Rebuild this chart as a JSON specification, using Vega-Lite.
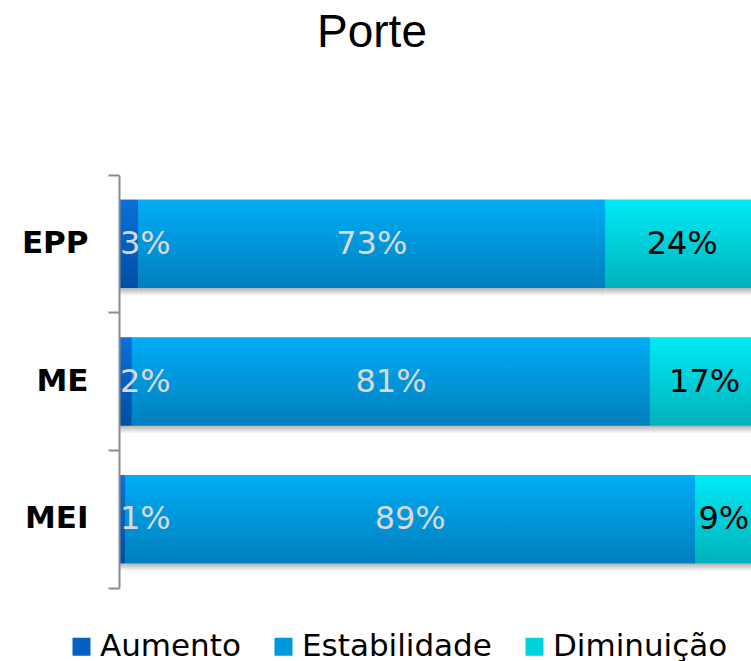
{
  "$schema": "https://vega.github.io/schema/vega-lite/v6.json",
  "width": 632,
  "height": 413,
  "autosize": {"type": "none"},
  "padding": {"left": 119, "top": 175, "right": 0, "bottom": 73},
  "background": "white",
  "view": {"stroke": null},
  "title": {"text": "Porte", "font": "Liberation Sans", "fontSize": 46, "fontWeight": "normal", "color": "#000000", "anchor": "middle", "frame": "group", "dx": -63, "offset": 102},
  "data": {"values": [
    {"porte": "EPP", "serie": "Aumento", "ordem": 1, "valor": 3, "rotulo": "3%"},
    {"porte": "EPP", "serie": "Estabilidade", "ordem": 2, "valor": 73, "rotulo": "73%"},
    {"porte": "EPP", "serie": "Diminuição", "ordem": 3, "valor": 24, "rotulo": "24%"},
    {"porte": "ME", "serie": "Aumento", "ordem": 1, "valor": 2, "rotulo": "2%"},
    {"porte": "ME", "serie": "Estabilidade", "ordem": 2, "valor": 81, "rotulo": "81%"},
    {"porte": "ME", "serie": "Diminuição", "ordem": 3, "valor": 17, "rotulo": "17%"},
    {"porte": "MEI", "serie": "Aumento", "ordem": 1, "valor": 1, "rotulo": "1%"},
    {"porte": "MEI", "serie": "Estabilidade", "ordem": 2, "valor": 89, "rotulo": "89%"},
    {"porte": "MEI", "serie": "Diminuição", "ordem": 3, "valor": 9, "rotulo": "9%"}
  ]},
  "transform": [
    {"stack": "valor", "groupby": ["porte"], "sort": [{"field": "ordem"}], "as": ["x0", "x1"]},
    {"calculate": "(datum.x0 + datum.x1) / 2", "as": "xm"}
  ],
  "encoding": {
    "y": {"field": "porte", "type": "nominal", "sort": ["EPP", "ME", "MEI"],
      "scale": {"paddingInner": 0, "paddingOuter": 0},
      "axis": {"title": null, "bandPosition": 1, "tickExtra": true, "tickSize": 11, "tickWidth": 2, "tickColor": "#8c8c8c", "domainColor": "#8c8c8c", "domainWidth": 2, "labelFont": "DejaVu Sans", "labelFontWeight": "bold", "labelFontSize": 31, "labelColor": "#000000", "labelPadding": 20, "grid": false, "zindex": 1}}
  },
  "layer": [
    {
      "mark": {"type": "bar", "clip": true, "height": {"band": 0.64}, "fill": {"gradient": "linear", "x1": 0, "y1": 0, "x2": 0, "y2": 1, "stops": [{"offset": 0, "color": "#a8a8a8"}, {"offset": 0.9, "color": "#a8a8a8"}, {"offset": 1, "color": "#ffffff"}]}},
      "encoding": {
        "x": {"field": "x0", "type": "quantitative", "scale": {"domain": [0, 98.75], "nice": false, "zero": true}, "axis": null},
        "x2": {"field": "x1"},
        "yOffset": {"value": 8}
      }
    },
    {
      "mark": {"type": "bar", "clip": true, "height": {"band": 0.64}},
      "encoding": {
        "x": {"field": "x0", "type": "quantitative"},
        "x2": {"field": "x1"},
        "color": {"field": "serie", "type": "nominal",
          "scale": {"domain": ["Aumento", "Estabilidade", "Diminuição"], "range": ["#0560c4", "#0098dc", "#00d2dc"]},
          "legend": {"orient": "none", "legendX": -53, "legendY": 456, "direction": "horizontal", "title": null, "symbolType": "square", "symbolSize": 324, "symbolStrokeWidth": 0, "labelFont": "DejaVu Sans", "labelFontSize": 31, "labelColor": "#000000", "columnPadding": 27, "labelOffset": 3, "padding": 0, "labelLimit": 400}}
      }
    },
    {
      "mark": {"type": "bar", "clip": true, "height": {"band": 0.64}},
      "encoding": {
        "x": {"field": "x0", "type": "quantitative"},
        "x2": {"field": "x1"},
        "fill": {"condition": [
          {"test": "datum.serie === 'Aumento'", "value": {"gradient": "linear", "x1": 0, "y1": 0, "x2": 0, "y2": 1, "stops": [{"offset": 0, "color": "#0a70da"}, {"offset": 1, "color": "#004ea3"}]}},
          {"test": "datum.serie === 'Estabilidade'", "value": {"gradient": "linear", "x1": 0, "y1": 0, "x2": 0, "y2": 1, "stops": [{"offset": 0, "color": "#00adf5"}, {"offset": 1, "color": "#007fbd"}]}}
        ], "value": {"gradient": "linear", "x1": 0, "y1": 0, "x2": 0, "y2": 1, "stops": [{"offset": 0, "color": "#00eaf6"}, {"offset": 1, "color": "#00b2ba"}]}}
      }
    },
    {
      "transform": [{"filter": "datum.serie === 'Aumento'"}],
      "mark": {"type": "text", "clip": true, "align": "left", "baseline": "middle", "dx": 1, "font": "DejaVu Sans", "fontSize": 32, "color": "#d9d9d9"},
      "encoding": {
        "x": {"field": "x0", "type": "quantitative"},
        "text": {"field": "rotulo"}
      }
    },
    {
      "transform": [{"filter": "datum.serie !== 'Aumento'"}],
      "mark": {"type": "text", "clip": true, "align": "center", "baseline": "middle", "font": "DejaVu Sans", "fontSize": 32},
      "encoding": {
        "x": {"field": "xm", "type": "quantitative"},
        "text": {"field": "rotulo"},
        "color": {"condition": {"test": "datum.serie === 'Diminuição'", "value": "#000000"}, "value": "#d9d9d9"}
      }
    }
  ]
}
